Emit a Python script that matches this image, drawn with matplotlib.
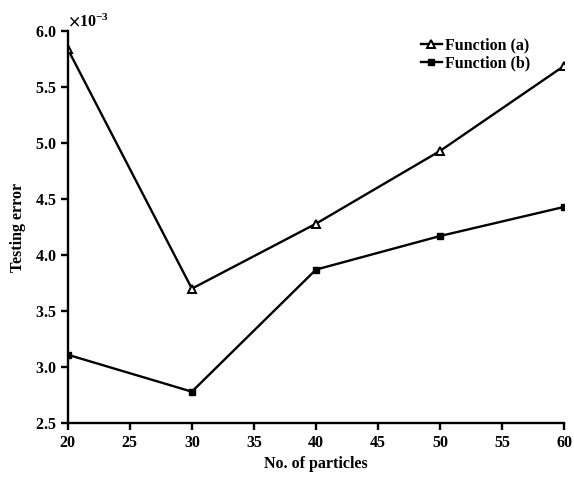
import matplotlib
matplotlib.use('Agg')
import matplotlib.pyplot as plt
from matplotlib.ticker import ScalarFormatter, MultipleLocator

particles = [20, 30, 40, 50, 60]
err_a = [5.84, 3.70, 4.28, 4.93, 5.69]   # x10^-3
err_b = [3.11, 2.78, 3.87, 4.17, 4.43]   # x10^-3

plt.rcParams['font.family'] = ['Liberation Serif', 'DejaVu Serif']
plt.rcParams['font.size'] = 11.5
plt.rcParams['font.weight'] = 'bold'
plt.rcParams['axes.labelweight'] = 'bold'
plt.rcParams['mathtext.fontset'] = 'stix'
plt.rcParams['mathtext.default'] = 'bf'

fig = plt.figure(figsize=(5.74, 4.78), dpi=100)
ax = fig.add_axes([0.118, 0.115, 0.865, 0.82])

ax.plot(particles, [v * 1e-3 for v in err_a], color='black', lw=1.7,
        marker='^', mfc='white', mec='black', ms=6, mew=1.4, label='Function (a)')
ax.plot(particles, [v * 1e-3 for v in err_b], color='black', lw=1.7,
        marker='s', mfc='black', mec='black', ms=4.5, label='Function (b)')

ax.set_xlim(20, 60)
ax.set_ylim(2.5e-3, 6.0e-3)
ax.xaxis.set_major_locator(MultipleLocator(5))
ax.yaxis.set_major_locator(MultipleLocator(0.5e-3))
fmt = ScalarFormatter(useMathText=True)
fmt.set_powerlimits((-3, -3))
ax.yaxis.set_major_formatter(fmt)
ax.yaxis.get_offset_text().set_fontsize(11.5)

for s in ('top', 'right'):
    ax.spines[s].set_visible(False)
for s in ('left', 'bottom'):
    ax.spines[s].set_linewidth(1.7)
ax.tick_params(direction='out', width=1.7, length=5, labelsize=11.5)

ax.set_xlabel('No. of particles', labelpad=4)
ax.set_ylabel('Testing error', labelpad=6)

ax.legend(loc='upper right', bbox_to_anchor=(0.96, 1.02), frameon=False,
          handlelength=1.3, handletextpad=0.2, labelspacing=0.1)

fig.savefig('out.png', dpi=100)
